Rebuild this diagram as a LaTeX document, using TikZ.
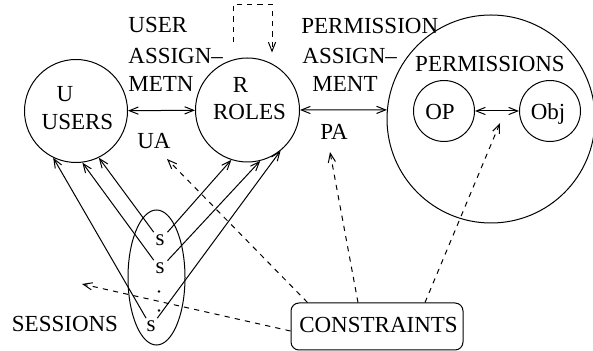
\documentclass[tikz,border=0pt]{standalone}
\usepackage{fontspec}
\setmainfont{Liberation Serif}
\usetikzlibrary{arrows.meta,shapes.geometric,calc}
\begin{document}
\begin{tikzpicture}[x=0.5pt,y=-0.5pt,
  every node/.style={font=\fontsize{11.5}{13}\selectfont, inner sep=0pt},
  ring/.style={draw, circle, line width=0.5pt},
  link/.style={line width=0.5pt, -{Straight Barb[length=4.5pt,width=3.6pt]}},
  bilink/.style={line width=0.5pt, {Straight Barb[length=4.5pt,width=3.6pt]}-{Straight Barb[length=4.5pt,width=3.6pt]}},
  dlink/.style={link, dash pattern=on 2.6pt off 2.6pt},
  sess/.style={inner sep=0pt, outer sep=1.5pt},
  elide/.style={circle, fill, minimum size=1.3pt},
]
\useasboundingbox (0,0) rectangle (593,351);

% main sets
\node[ring, minimum size=51.5pt] (users) at (76,111) {};
\node[ring, minimum size=52pt] (roles) at (247.5,110) {};
\node[ring, minimum size=104pt] (perm) at (491,119) {};
\node[ring, minimum size=30.5pt] (op) at (444,111) {};
\node[ring, minimum size=30.5pt] (obj) at (550,111) {};
\node[draw, ellipse, line width=0.5pt, minimum width=28.5pt, minimum height=67.5pt] (sessring) at (156.5,277.5) {};
\node[draw, line width=0.5pt, rounded corners=4pt, minimum width=86pt, minimum height=23.5pt] (cons) at (377,326.5) {};

% labels
\node[anchor=base] (uL) at (65,102) {U};
\node[anchor=base] (usersL) at (77.5,130) {USERS};
\node[anchor=base] (rL) at (240.5,93) {R};
\node[anchor=base] (rolesL) at (249.5,120) {ROLES};
\node[anchor=base west] (ua1) at (128,33) {USER};
\node[anchor=base west] (ua2) at (128,64) {ASSIGN\textendash};
\node[anchor=base west] (ua3) at (128,92) {METN};
\node[anchor=base] (uaL) at (154,149) {UA};
\node[anchor=base west] (pa1) at (301,34) {PERMISSION};
\node[anchor=base west] (pa2) at (302,64) {ASSIGN\textendash};
\node[anchor=base west] (pa3) at (312,92) {MENT};
\node[anchor=base] (paL) at (334,140) {PA};
\node[anchor=base] (permL) at (490,72) {PERMISSIONS};
\node[anchor=base] (opL) at (440,120) {OP};
\node[anchor=base] (objL) at (548,120) {Obj};
\node[anchor=base] (sessL) at (65,332) {SESSIONS};
\node (consL) at (378.5,325) {CONSTRAINTS};

% sessions
\node[sess, anchor=base] (s1) at (160,246) {s};
\node[sess, anchor=base] (s2) at (160,274) {s};
\node[elide] (d1) at (159,291.5) {};
\node[elide] (d2) at (159,310.5) {};
\node[sess, anchor=base] (s3) at (151,332) {s};

% session links
\draw[link] (s1) -- (users.296);
\draw[link] (s2) -- (users.277);
\draw[link] (s3) -- (users.244);
\draw[link] (s1) -- (roles.252.4);
\draw[link] (s2) -- (roles.284.3);
\draw[link] (s3) -- (roles.309);

% assignments
\draw[bilink] (users) -- (roles);
\draw[bilink] (roles.east) -- (perm.175);
\draw[bilink] (op) -- (obj);

% role hierarchy loop
\draw[dlink] ($(roles.north)+(-14.5,-15)$) |- ($(roles.north)+(24.5,-53)$) -- ($(roles.north)+(24.5,-5)$);

% constraints
\coordinate (uaTip) at (167,159);
\coordinate (paTip) at (330,152);
\coordinate (permTip) at (500,123);
\coordinate (sessTip) at (82,284);
\draw[dlink] ($(cons.north west)+(17,0)$) -- (uaTip);
\draw[dlink] ($(cons.north)+(-19,0)$) -- (paTip);
\draw[dlink] ($(cons.north)+(48,0)$) -- (permTip);
\draw[dlink] ($(cons.west)+(0,4.5)$) -- (sessTip);
\end{tikzpicture}
\end{document}
